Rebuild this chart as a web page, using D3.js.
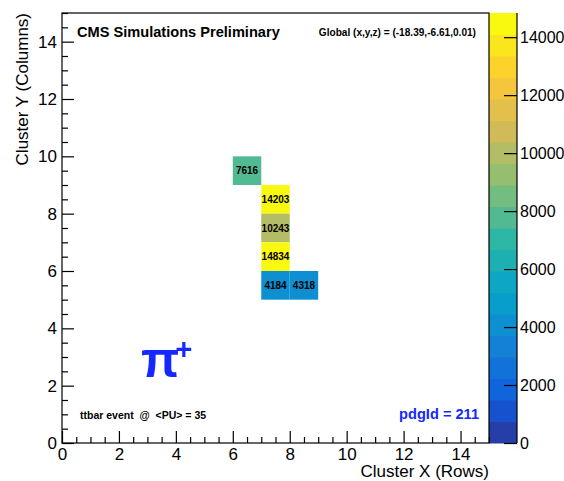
<!DOCTYPE html>
<html>
<head>
<meta charset="utf-8">
<script src="https://cdn.jsdelivr.net/npm/d3@7"></script>
<style>
  html, body { margin: 0; padding: 0; background: #fff; }
  svg { display: block; font-family: "Liberation Sans", Helvetica, Arial, sans-serif; }
</style>
</head>
<body>
<svg id="chart" width="564" height="481"></svg>
<script>
// Pixel cluster: bin (column index x, row index y) with charge content
const cellX = [6, 7, 7, 7, 7, 8];
const cellY = [9, 8, 7, 6, 5, 5];
const cellZ = [7616, 14203, 10243, 14834, 4184, 4318];

// Axis ticks
const xMajor = [0, 2, 4, 6, 8, 10, 12, 14];
const yMajor = [0, 2, 4, 6, 8, 10, 12, 14];
const zTicks = [0, 2000, 4000, 6000, 8000, 10000, 12000, 14000];
const axisRange = [0, 15];
const nContours = 20;

// Bird palette stops
const palStops = [0.0000, 0.1250, 0.2500, 0.3750, 0.5000, 0.6250, 0.7500, 0.8750, 1.0000];
const palR = [0.2082, 0.0592, 0.0780, 0.0232, 0.1802, 0.5301, 0.8186, 0.9956, 0.9764];
const palG = [0.1664, 0.3599, 0.5041, 0.6419, 0.7178, 0.7492, 0.7328, 0.7862, 0.9832];
const palB = [0.5293, 0.8684, 0.8385, 0.7914, 0.6425, 0.4662, 0.3499, 0.1968, 0.0539];

// Build a 255 colour gradient table
const nColors = 255;
const palette = [];
for (let g = 1; g < palStops.length; g++) {
  const n = Math.floor(nColors * palStops[g]) - Math.floor(nColors * palStops[g - 1]);
  for (let c = 0; c < n; c++) {
    const t = c / n;
    const r = palR[g - 1] + t * (palR[g] - palR[g - 1]);
    const gg = palG[g - 1] + t * (palG[g] - palG[g - 1]);
    const b = palB[g - 1] + t * (palB[g] - palB[g - 1]);
    palette.push(d3.rgb(r * 255, gg * 255, b * 255).formatHex());
  }
}
const bandColor = i => palette[Math.min(nColors - 1, Math.floor((i + 0.99) * nColors / nContours))];

const zMax = d3.max(cellZ);
const bandOf = v => Math.min(nContours - 1, Math.floor(0.01 + v * nContours / zMax));

const svg = d3.select("#chart");
const frame = { left: 62, right: 489, top: 13, bottom: 443 };
const bar = { left: 489, right: 517 };

const x = d3.scaleLinear().domain(axisRange).range([frame.left, frame.right]);
const y = d3.scaleLinear().domain(axisRange).range([frame.bottom, frame.top]);
const z = d3.scaleLinear().domain([0, zMax]).range([frame.bottom, frame.top]);

const minorTicks = d3.range(0, 15.01, 0.5).filter(v => !xMajor.includes(v));

// Cells
const cells = cellZ.map((v, i) => ({ x: cellX[i], y: cellY[i], v }));
const gCells = svg.append("g");
gCells.selectAll("rect").data(cells).join("rect")
  .attr("x", d => x(d.x))
  .attr("y", d => y(d.y + 1))
  .attr("width", d => x(d.x + 1) - x(d.x))
  .attr("height", d => y(d.y) - y(d.y + 1))
  .attr("fill", d => bandColor(bandOf(d.v)));
gCells.selectAll("text").data(cells).join("text")
  .attr("x", d => x(d.x + 0.5))
  .attr("y", d => y(d.y + 0.5))
  .attr("dy", "0.36em")
  .attr("text-anchor", "middle")
  .attr("font-size", 10)
  .attr("font-weight", "bold")
  .attr("fill", "#000")
  .text(d => d.v);

// Colour bar
const bands = d3.range(nContours);
svg.append("g").selectAll("rect").data(bands).join("rect")
  .attr("x", bar.left)
  .attr("width", bar.right - bar.left)
  .attr("y", i => z((i + 1) * zMax / nContours))
  .attr("height", i => z(i * zMax / nContours) - z((i + 1) * zMax / nContours) + 0.5)
  .attr("fill", i => bandColor(i));

// Axes
function styleAxis(g, size) {
  g.selectAll("path.domain").remove();
  g.selectAll(".tick line").attr("stroke", "#000").attr("stroke-width", 1.2);
  g.selectAll(".tick text").attr("font-size", size || 17).attr("fill", "#000");
}

svg.append("g").attr("transform", `translate(0,${frame.bottom})`)
  .call(d3.axisBottom(x).tickValues(minorTicks).tickSize(-6).tickFormat(""))
  .call(styleAxis);
svg.append("g").attr("transform", `translate(0,${frame.bottom})`)
  .call(d3.axisBottom(x).tickValues(xMajor).tickSize(-12).tickPadding(5).tickFormat(d3.format("d")))
  .call(styleAxis);

svg.append("g").attr("transform", `translate(${frame.left},0)`)
  .call(d3.axisLeft(y).tickValues(minorTicks).tickSize(-6).tickFormat(""))
  .call(styleAxis);
svg.append("g").attr("transform", `translate(${frame.left},0)`)
  .call(d3.axisLeft(y).tickValues(yMajor).tickSize(-12).tickPadding(5).tickFormat(d3.format("d")))
  .call(styleAxis);

svg.append("g").attr("transform", `translate(${bar.right},0)`)
  .call(d3.axisRight(z).tickValues(zTicks).tickSize(-13).tickPadding(3).tickFormat(d3.format("d")))
  .call(styleAxis, 16);

// Frame and colour bar axis line
svg.append("rect")
  .attr("x", frame.left).attr("y", frame.top)
  .attr("width", frame.right - frame.left).attr("height", frame.bottom - frame.top)
  .attr("fill", "none").attr("stroke", "#000").attr("stroke-width", 1.2);
svg.append("line")
  .attr("x1", bar.right).attr("x2", bar.right)
  .attr("y1", frame.top).attr("y2", frame.bottom)
  .attr("stroke", "#000").attr("stroke-width", 1.2);

// Axis titles
svg.append("text")
  .attr("x", frame.right).attr("y", 477)
  .attr("text-anchor", "end").attr("font-size", 17)
  .text("Cluster X (Rows)");
svg.append("text")
  .attr("transform", `translate(28,${frame.top}) rotate(-90)`)
  .attr("text-anchor", "end").attr("font-size", 17)
  .text("Cluster Y (Columns)");

// Annotations
svg.append("text")
  .attr("x", 77).attr("y", 37)
  .attr("font-size", 14.6).attr("font-weight", "bold")
  .text("CMS Simulations Preliminary");
svg.append("text")
  .attr("x", 476).attr("y", 36).attr("text-anchor", "end")
  .attr("font-size", 10.1).attr("font-weight", "bold")
  .text("Global (x,y,z) = (-18.39,-6.61,0.01)");
svg.append("text")
  .attr("x", 80).attr("y", 419)
  .attr("font-size", 10.5).attr("font-weight", "bold")
  .attr("xml:space", "preserve")
  .text("ttbar event  @  <PU> = 35");
svg.append("text")
  .attr("x", 479).attr("y", 419).attr("text-anchor", "end")
  .attr("font-size", 14.6).attr("font-weight", "bold").attr("fill", "#1428ff")
  .text("pdgId = 211");

const pi = svg.append("text")
  .attr("x", 141).attr("y", 377)
  .attr("font-size", 50).attr("font-weight", "bold").attr("fill", "#1428ff");
pi.append("tspan").text("π");
pi.append("tspan").attr("font-size", 29).attr("dx", -4).attr("dy", -18).text("+");
</script>
</body>
</html>
